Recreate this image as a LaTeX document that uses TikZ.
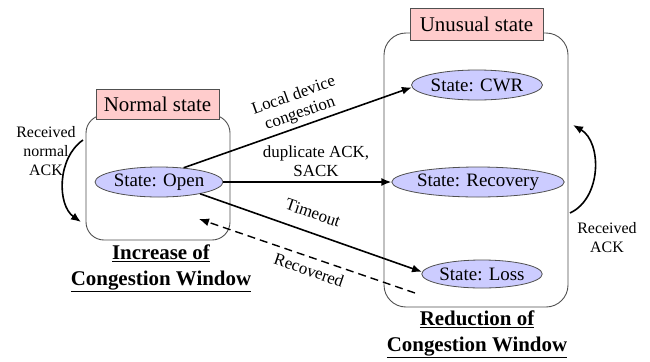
\documentclass[tikz,border=0pt]{standalone}
\usepackage{fontspec}
\setmainfont{Liberation Serif}
\usetikzlibrary{shapes.geometric,arrows.meta}
\definecolor{pinkfill}{RGB}{255,204,204}
\definecolor{lavfill}{RGB}{204,204,255}
\definecolor{edgegray}{RGB}{80,80,80}
\tikzset{
  groupbox/.style={draw=edgegray, line width=0.9bp, rounded corners=18bp, inner sep=0pt},
  headbox/.style={draw=edgegray, fill=pinkfill, line width=0.9bp, inner sep=0pt, font=\fontsize{21}{24}\selectfont},
  statenode/.style={ellipse, draw=edgegray, fill=lavfill, line width=0.8bp, inner sep=0pt, font=\fontsize{19}{22}\selectfont},
  conn/.style={line width=1.6bp, -{Latex[length=10bp,width=8bp]}},
  lbl/.style={font=\fontsize{17}{19}\selectfont, align=center, inner sep=0pt},
  small/.style={font=\fontsize{16}{19}\selectfont, align=center, inner sep=0pt},
  title/.style={font=\fontsize{21}{26}\selectfont\bfseries, align=center, inner sep=0pt},
}
\begin{document}
\begin{tikzpicture}[x=1bp,y=-1bp]
\useasboundingbox (0,0) rectangle (650,361);
% group boxes
\node[groupbox, minimum width=144bp, minimum height=125bp] (nbox) at (158,177.5) {};
\node[groupbox, rounded corners=22bp, minimum width=184bp, minimum height=274bp] (ubox) at (476,170) {};
% headers
\node[headbox, minimum width=123bp, minimum height=30bp] (nhead) at (157.5,104) {Normal state};
\node[headbox, minimum width=133bp, minimum height=32bp] (uhead) at (476.5,24) {Unusual state};
% states
\node[statenode, minimum width=115bp, minimum height=30bp] (open) at (159,182) {State: Open};
\node[statenode, minimum width=119bp, minimum height=30bp] (cwr) at (477,85) {State: CWR};
\node[statenode, minimum width=147bp, minimum height=30bp] (rec) at (478,182) {State: Recovery};
\node[statenode, minimum width=112bp, minimum height=28bp] (loss) at (482,274) {State: Loss};
% titles
\node[title] (ntitle) at (161,268) {\underline{Increase of}\\\underline{Congestion Window}};
\node[title] (utitle) at (477,334) {\underline{Reduction of}\\\underline{Congestion Window}};
% connectors
\draw[conn] (open.30) -- (cwr.182);
\draw[conn] (open.east) -- (rec.west);
\draw[conn] (open.-16) -- (loss.178);
\coordinate (dstart) at (415,293);
\coordinate (dend) at (199,219);
\draw[conn, line width=1.4bp, dash pattern=on 8bp off 5bp] (dstart) -- (dend);
% self loops
\coordinate (la) at (83,140);
\coordinate (lb) at (81,222);
\draw[conn] (la) .. controls (57,158) and (57,205) .. (lb);
\coordinate (ra) at (570,213);
\coordinate (rb) at (573,125);
\draw[conn] (ra) .. controls (602,198) and (602,142) .. (rb);
% labels
\node[lbl, rotate=19.5] (l1) at (297,105) {Local device\\congestion};
\node[lbl] (l2) at (316,161) {duplicate ACK,\\SACK};
\node[lbl, rotate=-19] (l3) at (313,213) {Timeout};
\node[lbl, rotate=-19] (l4) at (309,270) {Recovered};
\node[small] (l5) at (46,151) {Received\\normal\\ACK};
\node[small] (l6) at (607,238) {Received\\ACK};
\end{tikzpicture}
\end{document}
